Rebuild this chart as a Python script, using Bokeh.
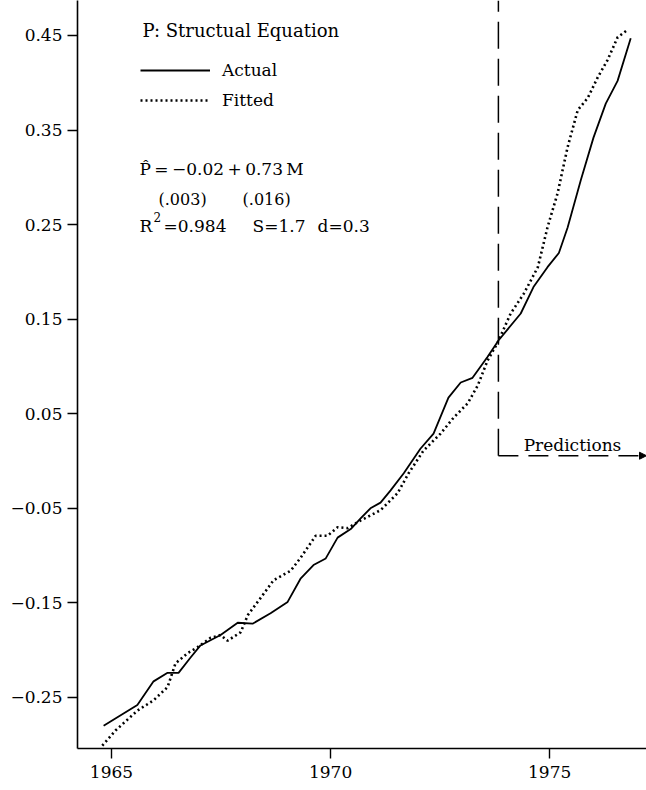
from bokeh.plotting import figure
from bokeh.models import Range1d, FixedTicker, Legend, LegendItem, Label, Arrow, NormalHead
from bokeh.embed import file_html
from bokeh.resources import INLINE

# ---- data ----
actual_year = [1964.82, 1965.59, 1965.96, 1966.28, 1966.53, 1966.80, 1967.03, 1967.49,
               1967.88, 1968.22, 1968.63, 1969.02, 1969.32, 1969.61, 1969.89, 1970.16,
               1970.46, 1970.68, 1970.91, 1971.14, 1971.37, 1971.67, 1972.05, 1972.35,
               1972.69, 1972.97, 1973.24, 1973.58, 1973.84, 1974.34, 1974.63, 1974.95,
               1975.21, 1975.41, 1975.71, 1976.00, 1976.28, 1976.55, 1976.85]
actual_value = [-0.280, -0.258, -0.233, -0.224, -0.224, -0.208, -0.195, -0.184,
                -0.171, -0.172, -0.161, -0.149, -0.124, -0.110, -0.103, -0.081,
                -0.072, -0.061, -0.050, -0.044, -0.031, -0.013, 0.013, 0.029,
                0.067, 0.083, 0.088, 0.110, 0.128, 0.156, 0.184, 0.205,
                0.220, 0.247, 0.297, 0.342, 0.378, 0.402, 0.447]

fitted_year = [1964.79, 1965.09, 1965.59, 1965.96, 1966.28, 1966.46, 1966.74, 1966.96,
               1967.26, 1967.49, 1967.65, 1967.95, 1968.11, 1968.40, 1968.70, 1969.09,
               1969.32, 1969.66, 1969.93, 1970.16, 1970.39, 1970.68, 1971.14, 1971.53,
               1971.78, 1972.12, 1972.51, 1972.81, 1973.13, 1973.36, 1973.58, 1973.81,
               1974.11, 1974.41, 1974.73, 1974.95, 1975.18, 1975.41, 1975.64, 1975.87,
               1976.10, 1976.32, 1976.55, 1976.78]
fitted_value = [-0.301, -0.285, -0.264, -0.253, -0.239, -0.214, -0.203, -0.197,
                -0.187, -0.184, -0.190, -0.181, -0.163, -0.145, -0.126, -0.116,
                -0.102, -0.079, -0.079, -0.070, -0.071, -0.063, -0.052, -0.034,
                -0.013, 0.011, 0.029, 0.046, 0.061, 0.080, 0.106, 0.125,
                0.156, 0.177, 0.205, 0.247, 0.283, 0.332, 0.371, 0.384,
                0.406, 0.424, 0.448, 0.456]

y_ticks = [-0.25, -0.15, -0.05, 0.05, 0.15, 0.25, 0.35, 0.45]
y_tick_labels = ["\u22120.25", "\u22120.15", "\u22120.05", "0.05", "0.15", "0.25", "0.35", "0.45"]
x_ticks = [1965, 1970, 1975]
x_tick_labels = ["1965", "1970", "1975"]

forecast_start = 1973.83
forecast_level = 0.0056

x_min, x_max = 1964.224, 1977.21
y_min, y_max = -0.304, 0.487

FONT = "DejaVu Serif"
TS = "\u2009"  # thin space

p = figure(width=646, height=790, output_backend="svg", toolbar_location=None,
           x_range=Range1d(x_min, x_max), y_range=Range1d(y_min, y_max),
           min_border_left=77, min_border_right=0, min_border_top=0, min_border_bottom=42)
p.outline_line_color = None
p.xgrid.visible = False
p.ygrid.visible = False
p.background_fill_color = "white"

for ax in (p.xaxis[0], p.yaxis[0]):
    ax.axis_line_width = 1.6
    ax.axis_line_color = "black"
    ax.major_tick_line_width = 1.4
    ax.major_tick_line_color = "black"
    ax.major_tick_out = 10
    ax.major_tick_in = 0
    ax.minor_tick_line_color = None
    ax.major_label_text_font = FONT
    ax.major_label_text_font_size = "17px"
    ax.major_label_text_color = "black"

p.yaxis[0].ticker = FixedTicker(ticks=y_ticks)
p.yaxis[0].major_label_overrides = {t: l for t, l in zip(y_ticks, y_tick_labels)}
p.yaxis[0].major_label_standoff = 5
p.xaxis[0].ticker = FixedTicker(ticks=x_ticks)
p.xaxis[0].major_label_overrides = {t: l for t, l in zip(x_ticks, x_tick_labels)}
p.xaxis[0].major_label_standoff = 7

r_act = p.line(actual_year, actual_value, line_color="black", line_width=1.8)
r_fit = p.line(fitted_year, fitted_value, line_color="black", line_width=2.6,
               line_dash="2 3", line_cap="butt")

# forecast boundary
p.line([forecast_start, forecast_start], [forecast_level, y_max], line_color="black",
       line_width=1.5, line_dash="27 10")
p.add_layout(Arrow(end=NormalHead(size=7, fill_color="black", line_color="black"),
                   x_start=forecast_start, y_start=forecast_level,
                   x_end=x_max, y_end=forecast_level,
                   line_color="black", line_width=1.5, line_dash="20 10"))

legend = Legend(items=[LegendItem(label="Actual", renderers=[r_act]),
                       LegendItem(label="Fitted", renderers=[r_fit])],
                location=(63, 633), glyph_width=70, glyph_height=30, label_height=30,
                spacing=0, padding=0, margin=0, label_standoff=12,
                border_line_color=None, background_fill_alpha=0,
                label_text_font=FONT, label_text_font_size="17px",
                label_text_color="black")
p.add_layout(legend)

def px_to_x(px):
    return x_min + (px - 77) / 43.8

def px_to_y(py):
    return y_max - py / 945.7

texts = [
    ("P: Structual Equation", 142, 30, "18px"),
    ("P\u0302" + TS + "=" + TS + "\u22120.02" + TS + "+" + TS + "0.73" + TS + "M", 139, 169, "17px"),
    ("(.003)", 158, 199, "16px"),
    ("(.016)", 242, 199, "16px"),
    ("R", 139, 226, "17px"),
    ("2", 153, 217, "12px"),
    ("=0.984", 163, 226, "17px"),
    ("S=1.7", 252, 226, "17px"),
    ("d=0.3", 317, 226, "17px"),
    ("Predictions", 523, 445, "17px"),
]
for t, x, y, fs in texts:
    p.add_layout(Label(x=px_to_x(x), y=px_to_y(y), text=t, text_font=FONT,
                       text_font_size=fs, text_baseline="middle", text_align="left",
                       text_color="black"))

open("out.html", "w").write(file_html(p, INLINE))
